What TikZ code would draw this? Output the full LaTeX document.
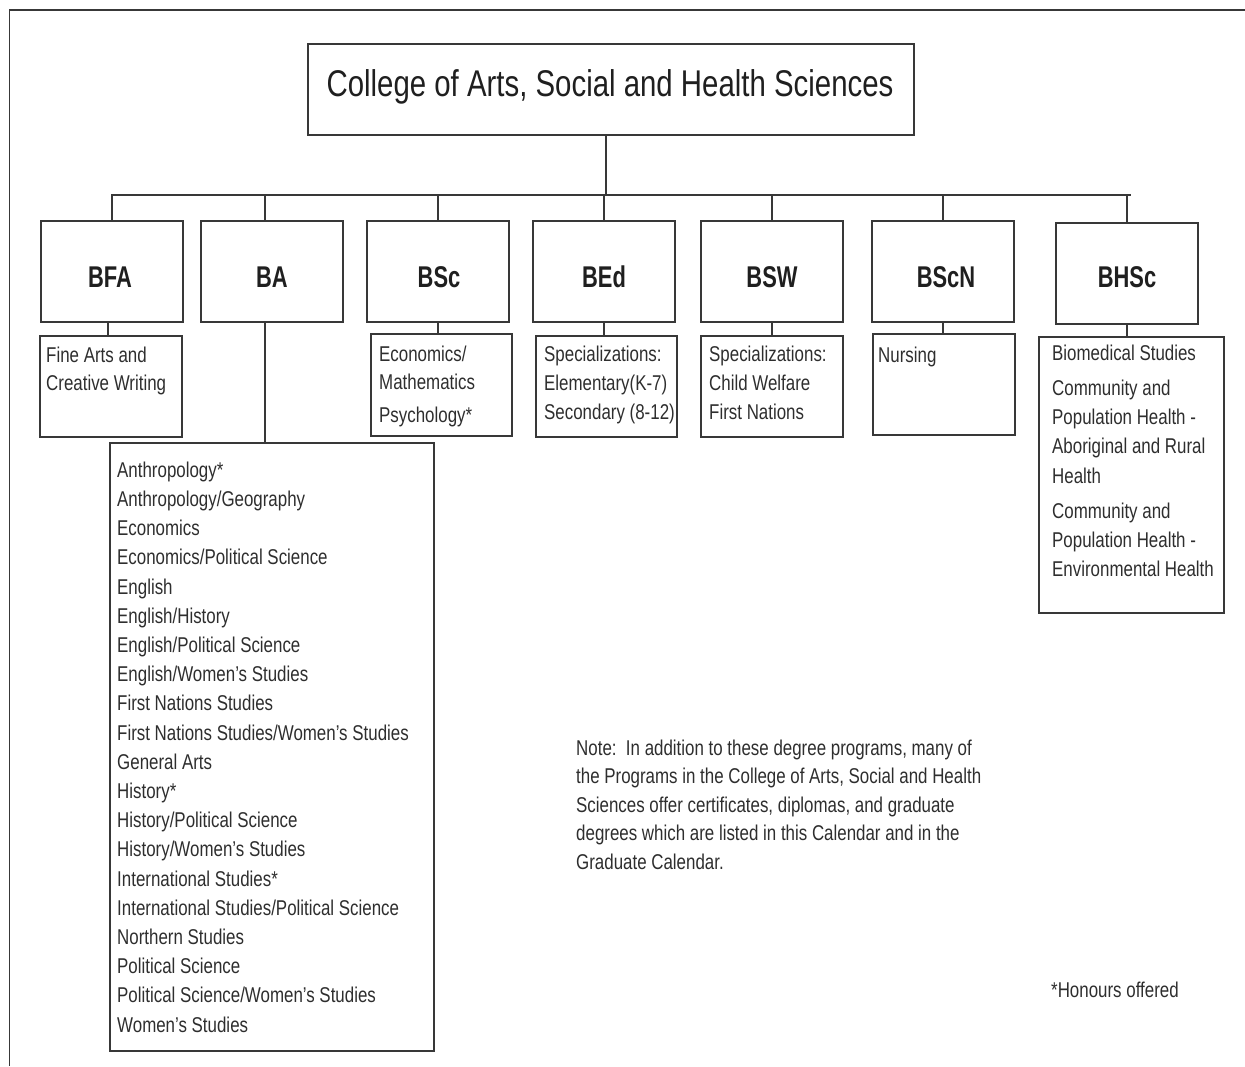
\documentclass[tikz,border=0pt]{standalone}
\usepackage{fontspec}
\setmainfont{Liberation Sans}[FakeStretch=0.79]
\newfontfamily\degfont{Liberation Sans Bold}[FakeStretch=0.73]
\begin{document}
\begin{tikzpicture}[x=1pt,y=-1pt,
  ln/.style={line width=1.3pt, draw=black!78},
  box/.style={draw=black!78, line width=1.3pt, rectangle, inner sep=0pt},
  ttl/.style={font=\fontsize{37.2}{40}\selectfont, anchor=base, text=black!88, inner sep=0pt},
  deg/.style={font=\degfont\fontsize{30}{34}\selectfont, anchor=base, text=black!88, inner sep=0pt},
  txt/.style={font=\fontsize{21.4}{29}\selectfont, anchor=base west, text=black!82, inner sep=0pt}]
\useasboundingbox (0,0) rectangle (1245,1066);
% outer frame
\coordinate (frTR) at (1245,10);
\coordinate (frTL) at (9.5,10);
\coordinate (frBL) at (9.5,1066);
\draw[ln] (frTR) -- (frTL) -- (frBL);

% title
\node[box, minimum width=606, minimum height=91] (title) at (611,89.5) {};
\node[ttl] (titletxt) at (610,96) {College of Arts, Social and Health Sciences};

% degree boxes
\node[box, minimum width=142, minimum height=101] (bfa)  at (112,271.5) {};
\node[box, minimum width=142, minimum height=101] (ba)   at (272,271.5) {};
\node[box, minimum width=142, minimum height=101] (bsc)  at (438,271.5) {};
\node[box, minimum width=142, minimum height=101] (bed)  at (604,271.5) {};
\node[box, minimum width=142, minimum height=101] (bsw)  at (772,271.5) {};
\node[box, minimum width=142, minimum height=101] (bscn) at (943,271.5) {};
\node[box, minimum width=142, minimum height=101] (bhsc) at (1127,273.5) {};
\node[deg] (bfat)  at (110,287) {BFA};
\node[deg] (bat)   at (272,287) {BA};
\node[deg] (bsct)  at (439,287) {BSc};
\node[deg] (bedt)  at (604,287) {BEd};
\node[deg] (bswt)  at (772,287) {BSW};
\node[deg] (bscnt) at (946,287) {BScN};
\node[deg] (bhsct) at (1127,287) {BHSc};

% sub boxes
\node[box, minimum width=142, minimum height=101] (bfasub)  at (111,386.5) {};
\node[box, minimum width=324, minimum height=608] (balist)  at (272,747) {};
\node[box, minimum width=141, minimum height=102] (bscsub)  at (441.5,385) {};
\node[box, minimum width=141, minimum height=101] (bedsub)  at (606.5,386.5) {};
\node[box, minimum width=142, minimum height=101] (bswsub)  at (772,386.5) {};
\node[box, minimum width=142, minimum height=101] (bscnsub) at (944,384.5) {};
\node[box, minimum width=185, minimum height=276] (bhscsub) at (1131.5,475) {};

% connectors
\coordinate (busy) at (0,195);
\coordinate (busend) at (1131,195);
\draw[ln] (bfa.north) -- (bfa.north |- busy) -- (busend);
\draw[ln] ([xshift=-5pt]title.south) -- ([xshift=-5pt]title.south |- busy);
\draw[ln] ([xshift=-7pt]ba.north) -- ([xshift=-7pt]ba.north |- busy);
\draw[ln] (bsc.north) -- (bsc.north |- busy);
\draw[ln] (bed.north) -- (bed.north |- busy);
\draw[ln] (bsw.north) -- (bsw.north |- busy);
\draw[ln] (bscn.north) -- (bscn.north |- busy);
\draw[ln] (bhsc.north) -- (bhsc.north |- busy);

\draw[ln] ([xshift=-4pt]bfa.south) -- ([xshift=-4pt]bfa.south |- bfasub.north);
\draw[ln] ([xshift=-7pt]ba.south) -- ([xshift=-7pt]ba.south |- balist.north);
\draw[ln] (bsc.south) -- (bsc.south |- bscsub.north);
\draw[ln] (bed.south) -- (bed.south |- bedsub.north);
\draw[ln] (bsw.south) -- (bsw.south |- bswsub.north);
\draw[ln] (bscn.south) -- (bscn.south |- bscnsub.north);
\draw[ln] (bhsc.south) -- (bhsc.south |- bhscsub.north);

% texts
\node[txt] (bfa1) at (46,362) {Fine Arts and};
\node[txt] (bfa2) at (46,390) {Creative Writing};

\node[txt] (bsc1) at (379,361) {Economics/};
\node[txt] (bsc2) at (379,389) {Mathematics};
\node[txt] (bsc3) at (379,422) {Psychology*};

\node[txt] (bed1) at (544,361) {Specializations:};
\node[txt] (bed2) at (544,390) {Elementary(K-7)};
\node[txt] (bed3) at (544,419) {Secondary (8-12)};

\node[txt] (bsw1) at (709,361) {Specializations:};
\node[txt] (bsw2) at (709,390) {Child Welfare};
\node[txt] (bsw3) at (709,419) {First Nations};

\node[txt] (bscn1) at (878,362) {Nursing};

\node[txt] (bh1) at (1052,360) {Biomedical Studies};
\node[txt] (bh2) at (1052,395) {Community and};
\node[txt] (bh3) at (1052,424) {Population Health -};
\node[txt] (bh4) at (1052,453) {Aboriginal and Rural};
\node[txt] (bh5) at (1052,483) {Health};
\node[txt] (bh6) at (1052,518) {Community and};
\node[txt] (bh7) at (1052,547) {Population Health -};
\node[txt] (bh8) at (1052,576) {Environmental Health};

\foreach \t [count=\i] in {Anthropology*, Anthropology/Geography, Economics,
  Economics/Political Science, English, English/History, English/Political Science,
  English/Women’s Studies, First Nations Studies, First Nations Studies/Women’s Studies,
  General Arts, History*, History/Political Science, History/Women’s Studies,
  International Studies*, International Studies/Political Science, Northern Studies,
  Political Science, Political Science/Women’s Studies, Women’s Studies}
  \node[txt] (ba\i) at (117,{477.2+(\i-1)*29.2}) {\t};

\foreach \t [count=\i] in {{Note:\ \ In addition to these degree programs, many of},
  {the Programs in the College of Arts, Social and Health},
  {Sciences offer certificates, diplomas, and graduate},
  {degrees which are listed in this Calendar and in the},
  {Graduate Calendar.}}
  \node[txt] (note\i) at (576,{755+(\i-1)*28.5}) {\t};

\node[txt] (honours) at (1051,997) {*Honours offered};
\end{tikzpicture}
\end{document}
